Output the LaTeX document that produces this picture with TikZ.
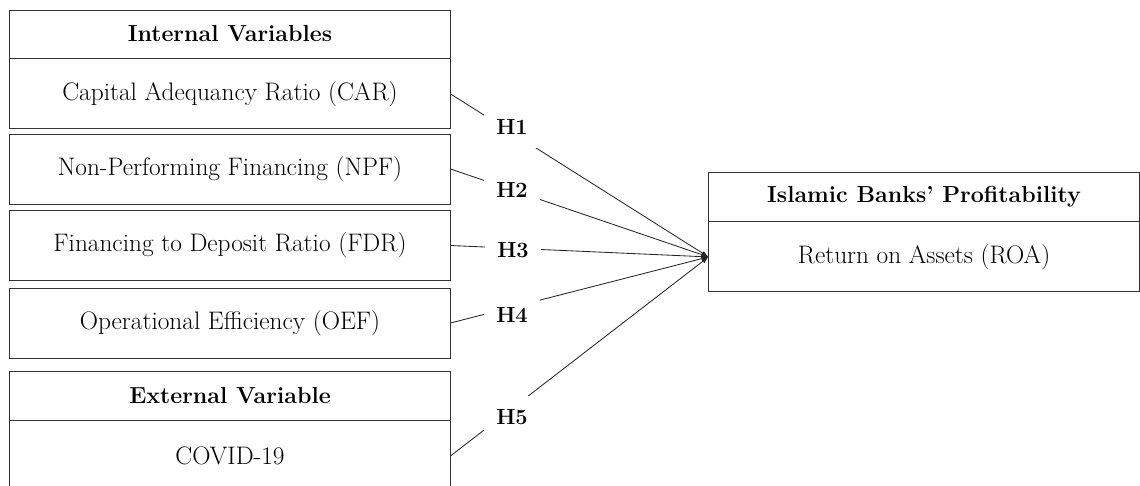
\documentclass[tikz,border=0pt]{standalone}
\usepackage{fontspec}
\usetikzlibrary{arrows.meta,positioning}

\tikzset{
	varbox/.style={draw=black!80, line width=.65pt, rectangle, minimum width=11cm, minimum height=1.75cm, inner sep=0pt, font=\fontsize{18}{21}\selectfont},
	headbox/.style={varbox, minimum height=1.2cm, font=\fontsize{16.5}{19}\selectfont\bfseries},
	hyplabel/.style={fill=white, minimum width=1.4cm, minimum height=1.05cm, inner sep=0pt, font=\fontsize{15.5}{18}\selectfont\bfseries},
	link/.style={draw=black!85, line width=.6pt, -{Latex[length=5pt,width=3.5pt]}}
}

\begin{document}
\begin{tikzpicture}[x=0.025cm, y=-0.025cm]
	\clip (0,0) rectangle (1140,486);
	
	% internal variables
	\node[headbox] (int) at (230,34) {Internal Variables};
	\node[varbox, below=0pt of int] (car) {Capital Adequancy Ratio (CAR)};
	\node[varbox] (npf) at (230,169) {Non-Performing Financing (NPF)};
	\node[varbox] (fdr) at (230,245.5) {Financing to Deposit Ratio (FDR)};
	\node[varbox] (oef) at (230,323) {Operational Efficiency (OEF)};
	
	% external variable
	\node[headbox, minimum height=1.225cm] (ext) at (230,395.5) {External Variable};
	\node[varbox, below=0pt of ext] (cov) {COVID-19};
	
	% profitability
	\node[headbox, minimum width=10.75cm, minimum height=1.225cm] (prof) at (924,196.5) {Islamic Banks' Profitability};
	\node[varbox, minimum width=10.75cm, below=0pt of prof] (roa) {Return on Assets (ROA)};
	
	\foreach \v in {car,npf,fdr,oef,cov}
		\draw[link] (\v.east) -- (roa.west);
	
	\node[hyplabel] (h1) at (512,127) {H1};
	\node[hyplabel] (h2) at (512,190) {H2};
	\node[hyplabel] (h3) at (513,250) {H3};
	\node[hyplabel] (h4) at (512,315) {H4};
	\node[hyplabel] (h5) at (512,417) {H5};
\end{tikzpicture}
\end{document}
